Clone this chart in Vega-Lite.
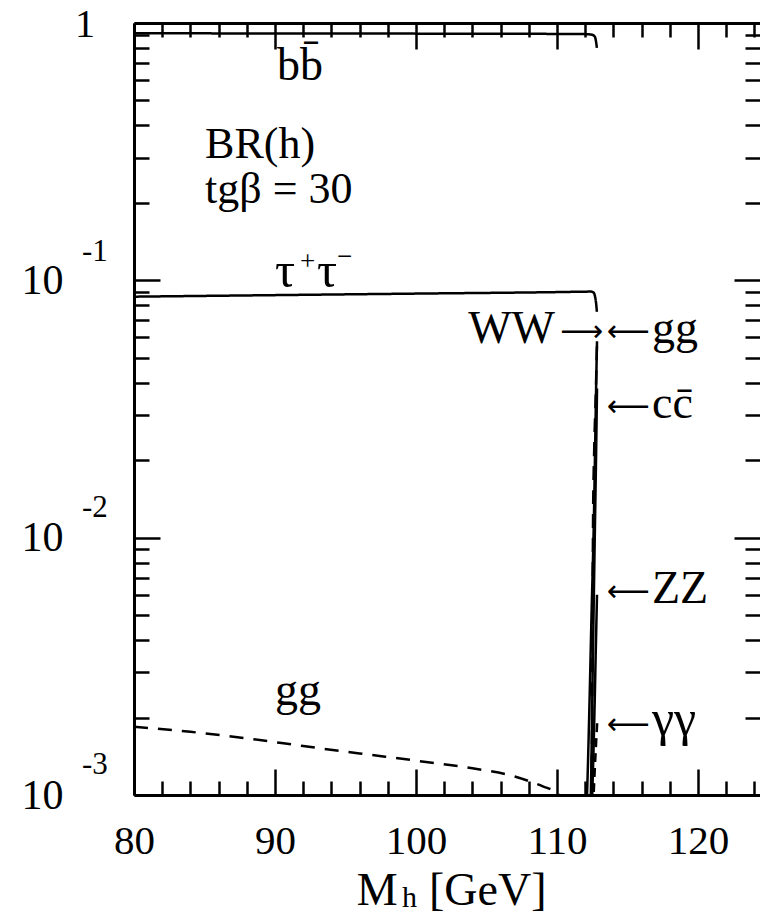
{
  "$schema": "https://vega.github.io/schema/vega-lite/v6.json",
  "width": 626,
  "height": 772,
  "autosize": "none",
  "padding": {"left": 134, "top": 23, "right": 0, "bottom": 119},
  "background": "white",
  "config": {
    "view": {"stroke": null},
    "axis": {
      "domainColor": "black", "domainWidth": 3, "tickColor": "black", "tickWidth": 2.5,
      "labelFont": "Liberation Serif", "labelFontSize": 41, "labelColor": "black",
      "grid": false, "title": null, "labelOverlap": false, "labelFlush": false, "labelBound": false
    },
    "text": {"font": "Liberation Serif", "color": "black"}
  },
  "layer": [
    {
      "data": {"values": [
        {"s": "bb", "m": 80, "br": 0.912}, {"s": "bb", "m": 95, "br": 0.910}, {"s": "bb", "m": 110, "br": 0.907}, {"s": "bb", "m": 112.1, "br": 0.905}, {"s": "bb", "m": 112.5, "br": 0.9}, {"s": "bb", "m": 112.65, "br": 0.89}, {"s": "bb", "m": 112.75, "br": 0.86}, {"s": "bb", "m": 112.83, "br": 0.8},
        {"s": "tau", "m": 80, "br": 0.0864}, {"s": "tau", "m": 90, "br": 0.0876}, {"s": "tau", "m": 100, "br": 0.0888}, {"s": "tau", "m": 110, "br": 0.09}, {"s": "tau", "m": 112.4, "br": 0.0904}, {"s": "tau", "m": 112.6, "br": 0.0896}, {"s": "tau", "m": 112.7, "br": 0.0865}, {"s": "tau", "m": 112.78, "br": 0.081}, {"s": "tau", "m": 112.83, "br": 0.0755},
        {"s": "WW", "m": 112.0, "br": 0.0007}, {"s": "WW", "m": 112.13, "br": 0.001}, {"s": "WW", "m": 112.3, "br": 0.0022}, {"s": "WW", "m": 112.45, "br": 0.005}, {"s": "WW", "m": 112.62, "br": 0.012}, {"s": "WW", "m": 112.72, "br": 0.025}, {"s": "WW", "m": 112.8, "br": 0.045}, {"s": "WW", "m": 112.84, "br": 0.058},
        {"s": "cc", "m": 112.3, "br": 0.0007}, {"s": "cc", "m": 112.4, "br": 0.001}, {"s": "cc", "m": 112.55, "br": 0.0035}, {"s": "cc", "m": 112.68, "br": 0.01}, {"s": "cc", "m": 112.78, "br": 0.022}, {"s": "cc", "m": 112.84, "br": 0.038},
        {"s": "ZZ", "m": 112.4, "br": 0.0007}, {"s": "ZZ", "m": 112.5, "br": 0.001}, {"s": "ZZ", "m": 112.65, "br": 0.002}, {"s": "ZZ", "m": 112.76, "br": 0.0038}, {"s": "ZZ", "m": 112.84, "br": 0.006},
        {"s": "gg", "m": 80, "br": 0.00184}, {"s": "gg", "m": 84, "br": 0.00176}, {"s": "gg", "m": 88, "br": 0.00166}, {"s": "gg", "m": 92, "br": 0.00155}, {"s": "gg", "m": 96, "br": 0.00145}, {"s": "gg", "m": 100, "br": 0.00136}, {"s": "gg", "m": 104, "br": 0.00127}, {"s": "gg", "m": 107, "br": 0.00118}, {"s": "gg", "m": 109, "br": 0.00108}, {"s": "gg", "m": 110, "br": 0.00102}, {"s": "gg", "m": 110.6, "br": 0.00094}, {"s": "gg", "m": 111.2, "br": 0.00082}, {"s": "gg", "m": 111.8, "br": 0.0007}, {"s": "gg", "m": 112.2, "br": 0.0007}, {"s": "gg", "m": 112.4, "br": 0.0009}, {"s": "gg", "m": 112.48, "br": 0.0016}, {"s": "gg", "m": 112.52, "br": 0.004}, {"s": "gg", "m": 112.56, "br": 0.012}, {"s": "gg", "m": 112.64, "br": 0.022}, {"s": "gg", "m": 112.75, "br": 0.036}, {"s": "gg", "m": 112.85, "br": 0.06},
        {"s": "gamgam", "m": 112.45, "br": 0.0006}, {"s": "gamgam", "m": 112.6, "br": 0.001}, {"s": "gamgam", "m": 112.75, "br": 0.0015}, {"s": "gamgam", "m": 112.85, "br": 0.0019}
      ]},
      "mark": {"type": "line", "clip": true, "strokeWidth": 2.5, "color": "black", "interpolate": "monotone"},
      "encoding": {
        "x": {"field": "m", "type": "quantitative", "scale": {"domain": [80, 124.4], "nice": false, "zero": false},
          "axis": {"orient": "bottom", "values": [80,82,84,86,88,90,92,94,96,98,100,102,104,106,108,110,112,114,116,118,120,122,124],
            "tickSize": {"condition": {"test": "datum.value % 10 == 0", "value": -26}, "value": -14},
            "labelExpr": "datum.value % 10 == 0 ? datum.label : ''", "labelPadding": 52, "domain": true}},
        "y": {"field": "br", "type": "quantitative", "scale": {"type": "log", "domain": [0.001, 1], "nice": false},
          "axis": {"orient": "left", "values": [0.001,0.002,0.003,0.004,0.005,0.006,0.007,0.008,0.009,0.01,0.02,0.03,0.04,0.05,0.06,0.07,0.08,0.09,0.1,0.2,0.3,0.4,0.5,0.6,0.7,0.8,0.9,1],
            "tickSize": {"condition": {"test": "datum.value == 0.001 || datum.value == 0.01 || datum.value == 0.1 || datum.value == 1", "value": -26}, "value": -15},
            "labelExpr": "(datum.value == 0.001 || datum.value == 0.01 || datum.value == 0.1) ? '10' : ''", "labelPadding": 97, "labelFontSize": 42, "domain": true}},
        "detail": {"field": "s"},
        "strokeDash": {"field": "s", "type": "nominal", "legend": null,
          "scale": {"domain": ["bb", "tau", "WW", "cc", "ZZ", "gg", "gamgam"], "range": [[1,0],[1,0],[1,0],[1,0],[1,0],[14,10],[9,6]]}}
      }
    },
    {
      "data": {"values": [
        {"tx": 90.14, "ty": 0.6002, "label": "bb̄"},
        {"tx": 116.74, "ty": 0.0571, "label": "gg"},
        {"tx": 116.74, "ty": 0.0292, "label": "cc̄"},
        {"tx": 116.74, "ty": 0.005558, "label": "ZZ"},
        {"tx": 90.0, "ty": 0.002232, "label": "gg"},
        {"tx": 95.8, "ty": 0.000375, "label": "M"},
        {"tx": 100.92, "ty": 0.000375, "label": "[GeV]"}
      ]},
      "mark": {"type": "text", "align": "left", "baseline": "alphabetic", "fontSize": 46, "font": "Liberation Serif", "clip": false},
      "encoding": {
        "x": {"field": "tx", "type": "quantitative", "scale": {"domain": [80, 124.4], "nice": false, "zero": false},
          "axis": {"orient": "top", "values": [80,82,84,86,88,90,92,94,96,98,100,102,104,106,108,110,112,114,116,118,120,122,124],
            "tickSize": {"condition": {"test": "datum.value % 10 == 0", "value": -26}, "value": -14},
            "labels": false, "domain": true}},
        "y": {"field": "ty", "type": "quantitative", "scale": {"type": "log", "domain": [0.001, 1], "nice": false},
          "axis": {"orient": "right", "values": [0.001,0.002,0.003,0.004,0.005,0.006,0.007,0.008,0.009,0.01,0.02,0.03,0.04,0.05,0.06,0.07,0.08,0.09,0.1,0.2,0.3,0.4,0.5,0.6,0.7,0.8,0.9,1],
            "tickSize": {"condition": {"test": "datum.value == 0.001 || datum.value == 0.01 || datum.value == 0.1 || datum.value == 1", "value": -26}, "value": -15},
            "labels": false, "domain": false}},
        "text": {"field": "label"}
      }
    },
    {
      "data": {"values": [
        {"tx": 85.04, "ty": 0.2987, "label": "BR(h)"},
        {"tx": 85.04, "ty": 0.1998, "label": "tgβ = 30"}
      ]},
      "mark": {"type": "text", "align": "left", "baseline": "alphabetic", "fontSize": 44, "font": "Liberation Serif", "clip": false},
      "encoding": {
        "x": {"field": "tx", "type": "quantitative", "scale": {"domain": [80, 124.4], "nice": false, "zero": false}, "axis": null},
        "y": {"field": "ty", "type": "quantitative", "scale": {"type": "log", "domain": [0.001, 1], "nice": false}, "axis": null},
        "text": {"field": "label"}
      }
    },
    {
      "data": {"values": [
        {"tx": 90.0, "ty": 0.0942, "label": "τ"},
        {"tx": 92.98, "ty": 0.0942, "label": "τ"},
        {"tx": 116.74, "ty": 0.001708, "label": "γγ"}
      ]},
      "mark": {"type": "text", "align": "left", "baseline": "alphabetic", "fontSize": 50, "font": "Liberation Serif", "clip": false},
      "encoding": {
        "x": {"field": "tx", "type": "quantitative", "scale": {"domain": [80, 124.4], "nice": false, "zero": false}, "axis": null},
        "y": {"field": "ty", "type": "quantitative", "scale": {"type": "log", "domain": [0.001, 1], "nice": false}, "axis": null},
        "text": {"field": "label"}
      }
    },
    {
      "data": {"values": [{"tx": 109.86, "ty": 0.0571, "label": "WW"}]},
      "mark": {"type": "text", "align": "right", "baseline": "alphabetic", "fontSize": 46, "font": "Liberation Serif", "clip": false},
      "encoding": {
        "x": {"field": "tx", "type": "quantitative", "scale": {"domain": [80, 124.4], "nice": false, "zero": false}, "axis": null},
        "y": {"field": "ty", "type": "quantitative", "scale": {"type": "log", "domain": [0.001, 1], "nice": false}, "axis": null},
        "text": {"field": "label"}
      }
    },
    {
      "data": {"values": [
        {"tx": 113.55, "ty": 0.05807, "label": "⟵"},
        {"tx": 113.55, "ty": 0.0297, "label": "⟵"},
        {"tx": 113.55, "ty": 0.00567, "label": "⟵"},
        {"tx": 113.55, "ty": 0.001725, "label": "⟵"},
        {"tx": 110.21, "ty": 0.05807, "label": "⟶"}
      ]},
      "mark": {"type": "text", "align": "left", "baseline": "alphabetic", "fontSize": 30, "font": "DejaVu Sans", "clip": false},
      "encoding": {
        "x": {"field": "tx", "type": "quantitative", "scale": {"domain": [80, 124.4], "nice": false, "zero": false}, "axis": null},
        "y": {"field": "ty", "type": "quantitative", "scale": {"type": "log", "domain": [0.001, 1], "nice": false}, "axis": null},
        "text": {"field": "label"}
      }
    },
    {
      "data": {"values": [
        {"tx": 75.82, "ty": 0.8822, "label": "1"}
      ]},
      "mark": {"type": "text", "align": "left", "baseline": "alphabetic", "fontSize": 40, "font": "Liberation Serif", "clip": false},
      "encoding": {
        "x": {"field": "tx", "type": "quantitative", "scale": {"domain": [80, 124.4], "nice": false, "zero": false}, "axis": null},
        "y": {"field": "ty", "type": "quantitative", "scale": {"type": "log", "domain": [0.001, 1], "nice": false}, "axis": null},
        "text": {"field": "label"}
      }
    },
    {
      "data": {"values": [
        {"tx": 91.77, "ty": 0.1097, "label": "+"},
        {"tx": 94.4, "ty": 0.1148, "label": "−"}
      ]},
      "mark": {"type": "text", "align": "left", "baseline": "alphabetic", "fontSize": 27, "font": "Liberation Serif", "clip": false},
      "encoding": {
        "x": {"field": "tx", "type": "quantitative", "scale": {"domain": [80, 124.4], "nice": false, "zero": false}, "axis": null},
        "y": {"field": "ty", "type": "quantitative", "scale": {"type": "log", "domain": [0.001, 1], "nice": false}, "axis": null},
        "text": {"field": "label"}
      }
    },
    {
      "data": {"values": [
        {"tx": 76.31, "ty": 0.1192, "label": "-1"},
        {"tx": 76.31, "ty": 0.01199, "label": "-2"},
        {"tx": 76.31, "ty": 0.001205, "label": "-3"}
      ]},
      "mark": {"type": "text", "align": "left", "baseline": "alphabetic", "fontSize": 31, "font": "Liberation Serif", "clip": false},
      "encoding": {
        "x": {"field": "tx", "type": "quantitative", "scale": {"domain": [80, 124.4], "nice": false, "zero": false}, "axis": null},
        "y": {"field": "ty", "type": "quantitative", "scale": {"type": "log", "domain": [0.001, 1], "nice": false}, "axis": null},
        "text": {"field": "label"}
      }
    },
    {
      "data": {"values": [
        {"tx": 99.0, "ty": 0.000367, "label": "h"}
      ]},
      "mark": {"type": "text", "align": "left", "baseline": "alphabetic", "fontSize": 30, "font": "Liberation Serif", "clip": false},
      "encoding": {
        "x": {"field": "tx", "type": "quantitative", "scale": {"domain": [80, 124.4], "nice": false, "zero": false}, "axis": null},
        "y": {"field": "ty", "type": "quantitative", "scale": {"type": "log", "domain": [0.001, 1], "nice": false}, "axis": null},
        "text": {"field": "label"}
      }
    }
  ],
  "resolve": {"axis": {"x": "independent", "y": "independent"}}
}
